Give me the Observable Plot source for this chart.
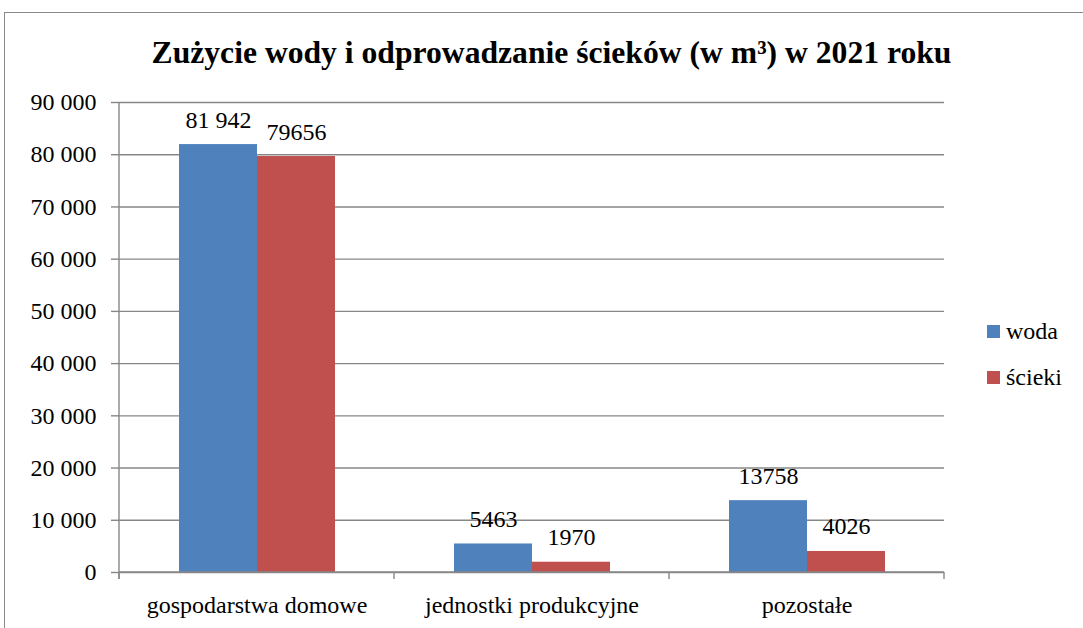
<!DOCTYPE html>
<html>
<head>
<meta charset="utf-8">
<script src="https://cdn.jsdelivr.net/npm/d3@7"></script>
<script src="https://cdn.jsdelivr.net/npm/@observablehq/plot@0.6"></script>
<style>
  body { margin: 0; background: #fff; }
  #wrap { position: relative; width: 1083px; height: 628px; overflow: hidden; }
  #border { position: absolute; left: 4px; top: 12px; width: 1200px; height: 800px; border: 1.5px solid #8a8a8a; box-sizing: border-box; }
  #chart { position: absolute; left: 0; top: 0; }
  #title { position: absolute; left: 0; width: 1103px; text-align: center; font-weight: bold; line-height: 1; white-space: nowrap; color: #000; }
  .leg { position: absolute; font-size: 24px; line-height: 1; color: #000; white-space: nowrap; }
  .sw { position: absolute; width: 13px; height: 13px; }
</style>
</head>
<body>
<div id="wrap" style="font-family:'Liberation Serif'">
  <div id="border"></div>
  <div id="chart"></div>
  <div id="title" style="font-family:'Liberation Serif'"></div>
  <div id="legend"></div>
</div>
<script>
const titleText = "Zużycie wody i odprowadzanie ścieków (w m³) w 2021 roku";
const categories = ["gospodarstwa domowe", "jednostki produkcyjne", "pozostałe"];
const series = ["woda", "ścieki"];
const woda = [81942, 5463, 13758];
const scieki = [79656, 1970, 4026];
const wodaLabels = ["81 942", "5463", "13758"];
const sciekiLabels = ["79656", "1970", "4026"];
const yTicks = [0, 10000, 20000, 30000, 40000, 50000, 60000, 70000, 80000, 90000];
const colors = ["#4F81BD", "#C0504D"];

const rows = categories.flatMap((c, i) => [
  {category: c, series: series[0], value: woda[i], label: wodaLabels[i]},
  {category: c, series: series[1], value: scieki[i], label: sciekiLabels[i]}
]);

const fmt = d => d3.format(",")(d).replace(/,/g, " ");
const gridColor = "#878787";
const FONT = "Liberation Serif";

const plot = Plot.plot({
  width: 1083,
  height: 628,
  marginLeft: 118,
  marginRight: 138,
  marginTop: 102,
  marginBottom: 56,
  fx: {domain: categories, padding: 0, label: null},
  x: {domain: series, paddingInner: 0, paddingOuter: 0.755, axis: null},
  y: {domain: [0, 90000], label: null},
  color: {domain: series, range: colors},
  marks: [
    Plot.gridY(yTicks, {stroke: gridColor, strokeOpacity: 1, strokeWidth: 1.4}),
    Plot.barY(rows, {fx: "category", x: "series", y: "value", fill: "series"}),
    Plot.text(rows, {fx: "category", x: "series", y: "value", text: "label", lineAnchor: "bottom", dy: -17, fontSize: 24, fontFamily: FONT, fill: "#000"}),
    Plot.axisY(yTicks, {tickSize: 8, tickPadding: 15, tickFormat: fmt, stroke: gridColor, strokeWidth: 1.4, fill: "#000", fontSize: 24, fontFamily: FONT, label: null}),
    Plot.axisFx({anchor: "bottom", tickSize: 0, tickPadding: 23, fontSize: 24, fontFamily: FONT, fill: "#000", label: null})
  ]
});
plot.style.background = "transparent";
plot.style.overflow = "visible";
plot.style.fontFamily = "'Liberation Serif'";
document.getElementById("chart").appendChild(plot);

const fx = plot.scale("fx");
const y = plot.scale("y");
const svg = d3.select(plot);
const y0 = y.apply(0), yTop = y.apply(90000);
const bounds = categories.map(c => fx.apply(c));
bounds.push(fx.apply(categories[categories.length - 1]) + fx.bandwidth);
const g = svg.append("g").attr("stroke", gridColor).attr("stroke-width", 1.4);
g.append("line").attr("x1", bounds[0]).attr("x2", bounds[0]).attr("y1", yTop).attr("y2", y0 + 7);
g.append("line").attr("x1", bounds[0]).attr("x2", bounds[bounds.length - 1]).attr("y1", y0).attr("y2", y0);
bounds.forEach(b => g.append("line").attr("x1", b).attr("x2", b).attr("y1", y0).attr("y2", y0 + 7));

const t = document.getElementById("title");
const ctx = document.createElement("canvas").getContext("2d");
ctx.font = "bold 30px 'Liberation Serif'";
const w = ctx.measureText(titleText).width;
const fs = Math.min(34, Math.max(24, 30 * 800 / w));
t.style.fontSize = fs + "px";
t.style.top = (63 - 0.8375 * fs) + "px";
t.textContent = titleText;

const color = plot.scale("color");
const legend = document.getElementById("legend");
const baselines = [339, 385];
color.domain.forEach((s, i) => {
  const sw = document.createElement("div");
  sw.className = "sw";
  sw.style.left = "987px";
  sw.style.top = (baselines[i] - 14) + "px";
  sw.style.background = color.apply(s);
  legend.appendChild(sw);
  const lab = document.createElement("div");
  lab.className = "leg";
  lab.style.fontFamily = "'Liberation Serif'";
  lab.style.left = "1006px";
  lab.style.top = (baselines[i] - 20) + "px";
  lab.textContent = s;
  legend.appendChild(lab);
});
</script>
</body>
</html>
